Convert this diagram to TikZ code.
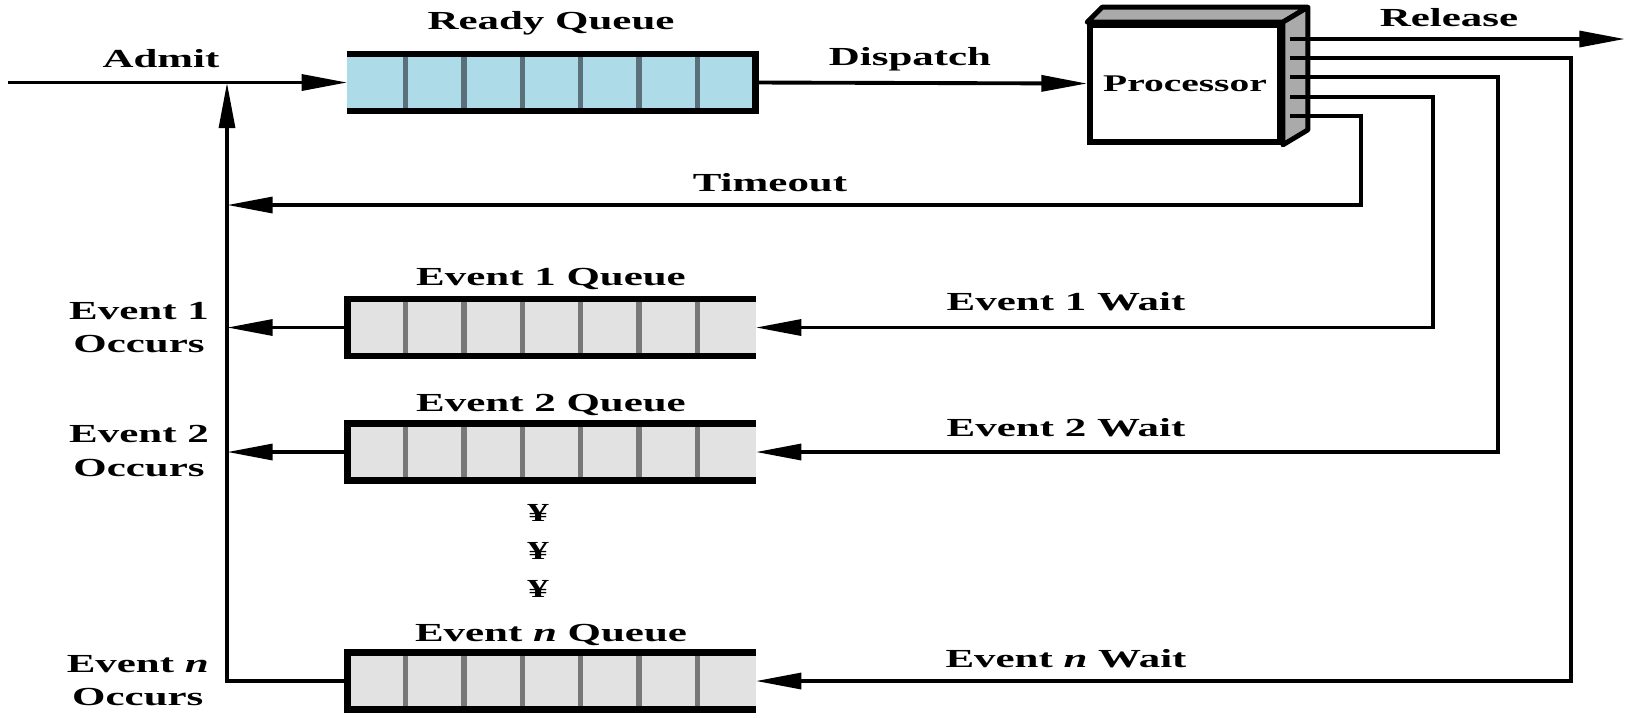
\documentclass[tikz,border=0pt]{standalone}
\usepackage{fontspec}
\setmainfont[FakeStretch=1.65]{Liberation Serif}
\usepackage{tikz}
\usetikzlibrary{arrows.meta,calc}
\definecolor{readyblue}{RGB}{173,220,232}
\definecolor{readyline}{RGB}{90,112,122}
\definecolor{eventgray}{RGB}{226,226,226}
\definecolor{eventline}{RGB}{120,120,120}
\definecolor{sidegray}{RGB}{170,170,170}
\tikzstyle{queue} = [rectangle, minimum width=4.08cm, minimum height=0.57cm,
    inner sep=0, outer sep=0]
\tikzstyle{lbl} = [font=\fontsize{7.4}{9.4}\selectfont\bfseries, inner sep=1pt]
\tikzstyle{wire} = [line width=1.1pt]
\tikzstyle{flow} = [wire, -{Triangle[length=13pt,width=4.5pt]}]

\begin{document}
\begin{tikzpicture}[x=0.01cm, y=-0.01cm]
\useasboundingbox (0,0) rectangle (1631,717);
% queues
\node [queue, fill=readyblue] (ready) at (551.5, 82.5) {};
\node [queue, fill=eventgray] (ev1) at (551.5, 327.5) {};
\node [queue, fill=eventgray] (ev2) at (551.5, 452) {};
\node [queue, fill=eventgray] (evn) at (551.5, 681) {};
\foreach \i in {1,...,6}
    \draw [readyline, line width=1.5pt] ($(ready.south west)!\i/7!(ready.south east)$)
        -- ($(ready.north west)!\i/7!(ready.north east)$);
\foreach \q in {ev1,ev2,evn} {
    \foreach \i in {1,...,6}
        \draw [eventline, line width=1.5pt] ($(\q.south west)!\i/7!(\q.south east)$)
            -- ($(\q.north west)!\i/7!(\q.north east)$);
    \draw [line width=1.8pt] (\q.north east) -- (\q.north west)
        -- (\q.south west) -- (\q.south east);
}
\draw [line width=1.8pt] (ready.north west) -- (ready.north east)
    -- (ready.south east) -- (ready.south west);

% processor
\node [draw, line width=1.6pt, fill=white, minimum width=1.9cm, minimum height=1.17cm,
    inner sep=0, font=\fontsize{6.8}{8}\selectfont\bfseries] (proc) at (1185, 83.5) {Processor};
\draw [line width=1.4pt, fill=sidegray, line join=round] (proc.north west) -- ++(15,-15)
    -- ([shift={(25,-15)}]proc.north east) -- (proc.north east) -- cycle;
\draw [line width=1.4pt, fill=sidegray, line join=round] (proc.north east)
    -- ++(25,-15) -- ([shift={(25,-15)}]proc.south east) -- (proc.south east) -- cycle;

% ports and corners
\coordinate (outR) at (1290, 39);
\coordinate (outN) at (1290, 58);
\coordinate (out2) at (1290, 77);
\coordinate (out1) at (1290, 97);
\coordinate (outT) at (1290, 116);
\coordinate (relend) at (1625, 39);
\coordinate (cornN) at (1571, 681);
\coordinate (corn2) at (1498, 452);
\coordinate (corn1) at (1433, 327.5);
\coordinate (cornT) at (1361, 205);
\coordinate (start) at (8, 82.5);
\coordinate (join) at (227, 82.5);
\coordinate (tmo) at (227, 205);

% connectors
\draw [flow] (start) -- (ready.west);
\draw [flow] (ready.east) -- (proc.west);
\draw [flow] (outR) -- (relend);
\draw [flow] (outN) -| (cornN) -- (evn.east);
\draw [flow] (out2) -| (corn2) -- (ev2.east);
\draw [flow] (out1) -| (corn1) -- (ev1.east);
\draw [flow] (outT) -| (cornT) -- (tmo);
\draw [flow] (evn.west) -| (join);
\draw [flow] (ev1.west) -- (ev1.west -| join);
\draw [flow] (ev2.west) -- (ev2.west -| join);

% labels
\node [lbl] (admit) at (161, 59) {Admit};
\node [lbl] (readyname) at (551, 23) {Ready Queue};
\node [lbl] (dispatch) at (910, 59) {Dispatch};
\node [lbl] (release) at (1449, 18) {Release};
\node [lbl] (timeout) at (770, 183) {Timeout};
\node [lbl] (ev1name) at (551, 279) {Event 1 Queue};
\node [lbl] (ev2name) at (551, 405) {Event 2 Queue};
\node [lbl] (evnname) at (551, 635) {Event \textit{n} Queue};
\node [lbl] (ev1wait) at (1066, 302) {Event 1 Wait};
\node [lbl] (ev2wait) at (1066, 428) {Event 2 Wait};
\node [lbl] (evnwait) at (1066, 659) {Event \textit{n} Wait};
\node [lbl, align=center, anchor=east] (ev1occ) at (213, 328) {Event 1\\Occurs};
\node [lbl, align=center, anchor=east] (ev2occ) at (213, 451) {Event 2\\Occurs};
\node [lbl, align=center, anchor=east] (evnocc) at (213, 681) {Event \textit{n}\\Occurs};
\node [lbl] (dot1) at (538, 513) {¥};
\node [lbl] (dot2) at (538, 551) {¥};
\node [lbl] (dot3) at (538, 589) {¥};
\end{tikzpicture}
\end{document}
